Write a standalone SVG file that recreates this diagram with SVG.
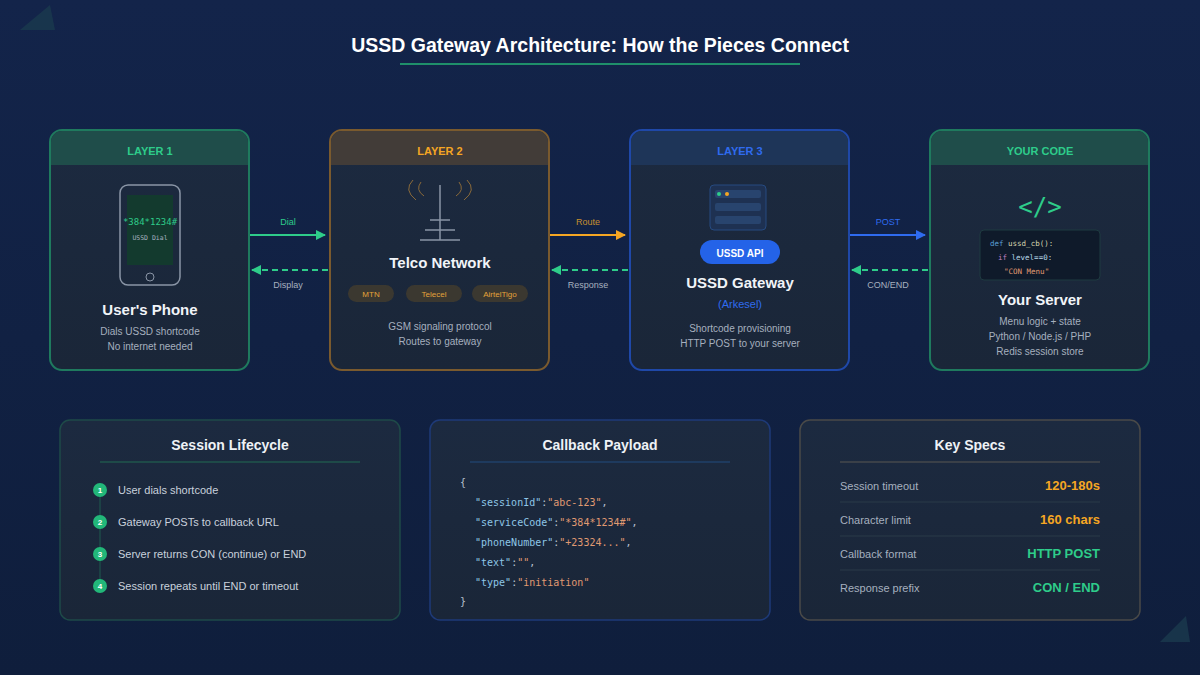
<svg xmlns="http://www.w3.org/2000/svg" width="1200" height="675" viewBox="0 0 1200 675">
<defs>
<linearGradient id="bg" x1="0" y1="0" x2="0" y2="1"><stop offset="0" stop-color="#13244a"/><stop offset="1" stop-color="#0f1e3c"/></linearGradient>
<linearGradient id="card" x1="0" y1="0" x2="0" y2="1"><stop offset="0" stop-color="#1c2a40"/><stop offset="1" stop-color="#1a2638"/></linearGradient>
<marker id="ag" markerWidth="10" markerHeight="10" refX="9" refY="5" orient="auto" markerUnits="userSpaceOnUse"><path d="M0,0 L10,5 L0,10z" fill="#2ecc8a"/></marker>
<marker id="ao" markerWidth="10" markerHeight="10" refX="9" refY="5" orient="auto" markerUnits="userSpaceOnUse"><path d="M0,0 L10,5 L0,10z" fill="#f5a623"/></marker>
<marker id="ab" markerWidth="10" markerHeight="10" refX="9" refY="5" orient="auto" markerUnits="userSpaceOnUse"><path d="M0,0 L10,5 L0,10z" fill="#2f6bef"/></marker>
</defs>
<style>
text{font-family:"Liberation Sans",Arial,sans-serif}
text.mono,.mono text{font-family:"DejaVu Sans Mono","Liberation Mono",monospace}
.hd{font-size:11px;font-weight:bold;text-anchor:middle}
.ttl{font-size:15px;font-weight:bold;fill:#f1f4f8;text-anchor:middle}
.sub{font-size:10px;fill:#a6b0bf;text-anchor:middle}
.lbl{font-size:9px;text-anchor:middle}
.pill{font-size:8px;fill:#e3a33a;text-anchor:middle}
.bt{font-size:14px;font-weight:bold;fill:#eef2f6;text-anchor:middle}
.li{font-size:11px;fill:#c9d1dc}
.k{fill:#8ec6e6}.s{fill:#e09a72}.p{fill:#b8c2cf}
.sk{font-size:11px;fill:#a6b0bf}
.sv{font-size:13px;font-weight:bold;text-anchor:end}
</style>
<rect width="1200" height="675" fill="url(#bg)"/>
<polygon points="20,30 50,5 55,30" fill="#1a3a4e" opacity="0.8"/>
<polygon points="1160,642 1186,616 1190,642" fill="#1a3a4e" opacity="0.8"/>
<text x="600" y="52" text-anchor="middle" font-size="19.5" font-weight="bold" fill="#ffffff">USSD Gateway Architecture: How the Pieces Connect</text>
<rect x="400" y="63" width="400" height="2" fill="#1f8f6a"/>

<g id="phone">
<rect x="50" y="130" width="199" height="240" rx="12" fill="url(#card)" stroke="#1f7a5e" stroke-width="2"/>
<path d="M51,165 V142 a11,11 0 0 1 11,-11 H237 a11,11 0 0 1 11,11 V165z" fill="#1f4d4a"/>
<text class="hd" x="150" y="155" fill="#2ecc8a">LAYER 1</text>
<rect x="120" y="185" width="60" height="100" rx="8" fill="none" stroke="#8a95a6" stroke-width="1.5"/>
<rect x="127" y="195" width="46" height="70" fill="#133a2e"/>
<text class="mono" x="150" y="225" font-size="9" fill="#2ecc8a" text-anchor="middle">*384*1234#</text>
<text class="mono" x="150" y="240" font-size="6.5" fill="#a6b0bf" text-anchor="middle">USSD Dial</text>
<circle cx="150" cy="277" r="4" fill="none" stroke="#8a95a6"/>
<text class="ttl" x="150" y="315">User's Phone</text>
<text class="sub" x="150" y="335">Dials USSD shortcode</text>
<text class="sub" x="150" y="350">No internet needed</text>
</g>

<g id="telco">
<rect x="330" y="130" width="219" height="240" rx="12" fill="url(#card)" stroke="#7a5a2e" stroke-width="2"/>
<path d="M331,165 V142 a11,11 0 0 1 11,-11 H537 a11,11 0 0 1 11,11 V165z" fill="#423c38"/>
<text class="hd" x="440" y="155" fill="#f5a623">LAYER 2</text>
<path d="M413,180 q-10,10 3,20 M421,182 q-6,8 3,14 M467,180 q10,10 -3,20 M459,182 q6,8 -3,14" fill="none" stroke="#8a6a3a" stroke-width="1"/>
<line x1="440" y1="185" x2="440" y2="240" stroke="#8a95a6" stroke-width="1.5"/>
<line x1="430" y1="220" x2="450" y2="220" stroke="#8a95a6" stroke-width="1.5"/>
<line x1="425" y1="230" x2="455" y2="230" stroke="#8a95a6" stroke-width="1.5"/>
<line x1="420" y1="240" x2="460" y2="240" stroke="#8a95a6" stroke-width="1.5"/>
<text class="ttl" x="440" y="268">Telco Network</text>
<rect x="348" y="285" width="46" height="17" rx="8.5" fill="#3b3830"/><text class="pill" x="371" y="297">MTN</text>
<rect x="406" y="285" width="56" height="17" rx="8.5" fill="#3b3830"/><text class="pill" x="434" y="297">Telecel</text>
<rect x="472" y="285" width="56" height="17" rx="8.5" fill="#3b3830"/><text class="pill" x="500" y="297">AirtelTigo</text>
<text class="sub" x="440" y="330">GSM signaling protocol</text>
<text class="sub" x="440" y="345">Routes to gateway</text>
</g>

<g id="gateway">
<rect x="630" y="130" width="219" height="240" rx="12" fill="url(#card)" stroke="#1f48a8" stroke-width="2"/>
<path d="M631,165 V142 a11,11 0 0 1 11,-11 H837 a11,11 0 0 1 11,11 V165z" fill="#1e3558"/>
<text class="hd" x="740" y="155" fill="#2f6bef">LAYER 3</text>
<rect x="710" y="185" width="56" height="45" rx="4" fill="#1e3152" stroke="#264a80"/>
<rect x="715" y="190" width="46" height="8" rx="2" fill="#28446e"/>
<circle cx="719" cy="194" r="2" fill="#2ecc8a"/><circle cx="727" cy="194" r="2" fill="#f5a623"/>
<rect x="715" y="203" width="46" height="8" rx="2" fill="#28446e"/>
<rect x="715" y="216" width="46" height="8" rx="2" fill="#28446e"/>
<rect x="700" y="240" width="80" height="24" rx="12" fill="#2463e8"/>
<text x="740" y="257" text-anchor="middle" font-size="10" font-weight="bold" fill="#ffffff">USSD API</text>
<text class="ttl" x="740" y="288">USSD Gateway</text>
<text x="740" y="308" text-anchor="middle" font-size="11" fill="#2f6bef">(Arkesel)</text>
<text class="sub" x="740" y="332">Shortcode provisioning</text>
<text class="sub" x="740" y="347">HTTP POST to your server</text>
</g>

<g id="server">
<rect x="930" y="130" width="219" height="240" rx="12" fill="url(#card)" stroke="#1f7a5e" stroke-width="2"/>
<path d="M931,165 V142 a11,11 0 0 1 11,-11 H1137 a11,11 0 0 1 11,11 V165z" fill="#1f4d4a"/>
<text class="hd" x="1040" y="155" fill="#2ecc8a">YOUR CODE</text>
<text class="mono" x="1040" y="215" text-anchor="middle" font-size="24" fill="#2ecc8a">&lt;/&gt;</text>
<rect x="980" y="230" width="120" height="50" rx="4" fill="#0f1a2a" stroke="#1e3a40"/>
<text class="mono" x="990" y="246" font-size="7.5"><tspan fill="#5aa0d8">def</tspan><tspan fill="#d8d8b0"> ussd_cb():</tspan></text>
<text class="mono" x="998" y="260" font-size="7.5"><tspan fill="#c080c0">if</tspan><tspan fill="#b8d8e8"> level==0:</tspan></text>
<text class="mono" x="1004" y="274" font-size="7.5" fill="#e09a72">"CON Menu"</text>
<text class="ttl" x="1040" y="305">Your Server</text>
<text class="sub" x="1040" y="325">Menu logic + state</text>
<text class="sub" x="1040" y="340">Python / Node.js / PHP</text>
<text class="sub" x="1040" y="355">Redis session store</text>
</g>

<g id="connectors">
<line x1="250" y1="235" x2="325" y2="235" stroke="#2ecc8a" stroke-width="2" marker-end="url(#ag)"/>
<text class="lbl" x="288" y="225" fill="#2ecc8a">Dial</text>
<line x1="328" y1="270" x2="252" y2="270" stroke="#2ecc8a" stroke-width="2" stroke-dasharray="6,4" marker-end="url(#ag)"/>
<text class="lbl" x="288" y="288" fill="#a6b0bf">Display</text>
<line x1="550" y1="235" x2="625" y2="235" stroke="#f5a623" stroke-width="2" marker-end="url(#ao)"/>
<text class="lbl" x="588" y="225" fill="#c8902e">Route</text>
<line x1="628" y1="270" x2="552" y2="270" stroke="#2ecc8a" stroke-width="2" stroke-dasharray="6,4" marker-end="url(#ag)"/>
<text class="lbl" x="588" y="288" fill="#a6b0bf">Response</text>
<line x1="850" y1="235" x2="925" y2="235" stroke="#2f6bef" stroke-width="2" marker-end="url(#ab)"/>
<text class="lbl" x="888" y="225" fill="#2f6bef">POST</text>
<line x1="928" y1="270" x2="852" y2="270" stroke="#2ecc8a" stroke-width="2" stroke-dasharray="6,4" marker-end="url(#ag)"/>
<text class="lbl" x="888" y="288" fill="#a6b0bf">CON/END</text>
</g>

<g id="lifecycle">
<rect x="60" y="420" width="340" height="200" rx="10" fill="url(#card)" stroke="#1e4a48" stroke-width="1.5"/>
<text class="bt" x="230" y="450">Session Lifecycle</text>
<rect x="100" y="461" width="260" height="2" fill="#1e4a48"/>
<line x1="100" y1="490" x2="100" y2="586" stroke="#1e4a48" stroke-width="1.5"/>
<g font-size="8" font-weight="bold" fill="#fff" text-anchor="middle">
<circle cx="100" cy="490" r="7" fill="#22b779"/><text x="100" y="493">1</text>
<circle cx="100" cy="522" r="7" fill="#22b779"/><text x="100" y="525">2</text>
<circle cx="100" cy="554" r="7" fill="#22b779"/><text x="100" y="557">3</text>
<circle cx="100" cy="586" r="7" fill="#22b779"/><text x="100" y="589">4</text>
</g>
<text class="li" x="118" y="494">User dials shortcode</text>
<text class="li" x="118" y="526">Gateway POSTs to callback URL</text>
<text class="li" x="118" y="558">Server returns CON (continue) or END</text>
<text class="li" x="118" y="590">Session repeats until END or timeout</text>
</g>

<g id="payload">
<rect x="430" y="420" width="340" height="200" rx="10" fill="url(#card)" stroke="#1e3a78" stroke-width="1.5"/>
<text class="bt" x="600" y="450">Callback Payload</text>
<rect x="470" y="461" width="260" height="2" fill="#1e3a5e"/>
<g class="mono" font-size="10">
<text x="460" y="486" class="p">{</text>
<text x="475" y="506"><tspan class="k">"sessionId"</tspan><tspan class="p">:</tspan><tspan class="s">"abc-123"</tspan><tspan class="p">,</tspan></text>
<text x="475" y="526"><tspan class="k">"serviceCode"</tspan><tspan class="p">:</tspan><tspan class="s">"*384*1234#"</tspan><tspan class="p">,</tspan></text>
<text x="475" y="546"><tspan class="k">"phoneNumber"</tspan><tspan class="p">:</tspan><tspan class="s">"+23324..."</tspan><tspan class="p">,</tspan></text>
<text x="475" y="566"><tspan class="k">"text"</tspan><tspan class="p">:</tspan><tspan class="s">""</tspan><tspan class="p">,</tspan></text>
<text x="475" y="586"><tspan class="k">"type"</tspan><tspan class="p">:</tspan><tspan class="s">"initiation"</tspan></text>
<text x="460" y="605" class="p">}</text>
</g>
</g>

<g id="specs">
<rect x="800" y="420" width="340" height="200" rx="10" fill="url(#card)" stroke="#4a4a48" stroke-width="1.5"/>
<text class="bt" x="970" y="450">Key Specs</text>
<rect x="840" y="461" width="260" height="2" fill="#3a4048"/>
<text class="sk" x="840" y="490">Session timeout</text><text class="sv" x="1100" y="490" fill="#f5a623">120-180s</text>
<line x1="840" y1="502" x2="1100" y2="502" stroke="#2a3a48"/>
<text class="sk" x="840" y="524">Character limit</text><text class="sv" x="1100" y="524" fill="#f5a623">160 chars</text>
<line x1="840" y1="536" x2="1100" y2="536" stroke="#2a3a48"/>
<text class="sk" x="840" y="558">Callback format</text><text class="sv" x="1100" y="558" fill="#2ecc8a">HTTP POST</text>
<line x1="840" y1="570" x2="1100" y2="570" stroke="#2a3a48"/>
<text class="sk" x="840" y="592">Response prefix</text><text class="sv" x="1100" y="592" fill="#2ecc8a">CON / END</text>
</g>
</svg>
